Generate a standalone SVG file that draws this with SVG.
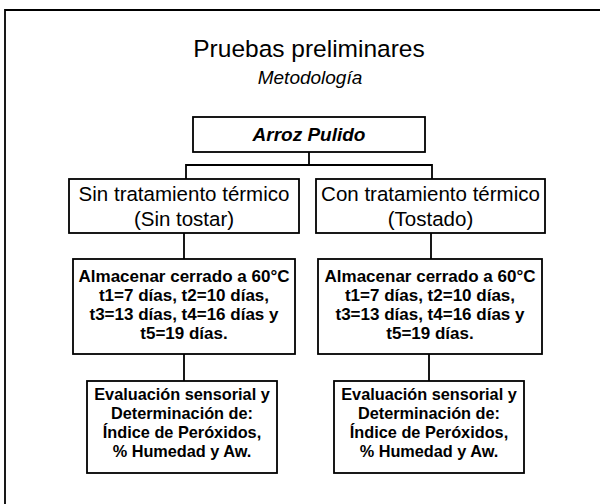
<svg xmlns="http://www.w3.org/2000/svg" width="600" height="504" viewBox="0 0 600 504">
<style>
.box{fill:#fff;stroke:#000;stroke-width:1.8}
.ln{fill:none;stroke:#000;stroke-width:1.8}
text{font-family:"Liberation Sans",Arial,sans-serif;fill:#000;text-anchor:middle}
.t2{font-size:20.5px}
.t3{font-size:17px;font-weight:bold}
.t4{font-size:16.3px;font-weight:bold}
</style>
<rect width="600" height="504" fill="#fff"/>
<path class="ln" d="M5,504 V10 H600" stroke-width="2"/>
<g id="title">
<text x="309" y="57" font-size="24.5">Pruebas preliminares</text>
<text x="310" y="84" font-size="19" font-style="italic">Metodología</text>
</g>
<g id="connectors">
<path class="ln" d="M309,152 V165 M186,179 V165 H432 V179"/>
<path class="ln" d="M184,233 V259 M431,233 V259"/>
<path class="ln" d="M184,354 V381 M429,354 V381"/>
</g>
<g id="arroz">
<rect class="box" x="193" y="117" width="232" height="35"/>
<text x="309" y="141" font-size="19" font-weight="bold" font-style="italic">Arroz Pulido</text>
</g>
<g id="sin">
<rect class="box" x="69" y="179" width="230" height="54"/>
<text class="t2" x="184" y="201">Sin tratamiento térmico</text>
<text class="t2" x="184" y="226">(Sin tostar)</text>
</g>
<g id="con">
<rect class="box" x="316" y="179" width="229" height="54"/>
<text class="t2" x="430.5" y="201">Con tratamiento térmico</text>
<text class="t2" x="430.5" y="226">(Tostado)</text>
</g>
<g id="alm1">
<rect class="box" x="73" y="259" width="222" height="95"/>
<text class="t3" x="184" y="282">Almacenar cerrado a 60°C</text>
<text class="t3" x="184" y="301">t1=7 días, t2=10 días,</text>
<text class="t3" x="184" y="320">t3=13 días, t4=16 días y</text>
<text class="t3" x="184" y="339">t5=19 días.</text>
</g>
<g id="alm2">
<rect class="box" x="318" y="259" width="224" height="95"/>
<text class="t3" x="430" y="282">Almacenar cerrado a 60°C</text>
<text class="t3" x="430" y="301">t1=7 días, t2=10 días,</text>
<text class="t3" x="430" y="320">t3=13 días, t4=16 días y</text>
<text class="t3" x="430" y="339">t5=19 días.</text>
</g>
<g id="eval1">
<rect class="box" x="87" y="381" width="190" height="92"/>
<text class="t4" x="182" y="400">Evaluación sensorial y</text>
<text class="t4" x="182" y="419">Determinación de:</text>
<text class="t4" x="182" y="438">Índice de Peróxidos,</text>
<text class="t4" x="182" y="457">% Humedad y Aw.</text>
</g>
<g id="eval2">
<rect class="box" x="334" y="381" width="190" height="92"/>
<text class="t4" x="429" y="400">Evaluación sensorial y</text>
<text class="t4" x="429" y="419">Determinación de:</text>
<text class="t4" x="429" y="438">Índice de Peróxidos,</text>
<text class="t4" x="429" y="457">% Humedad y Aw.</text>
</g>
</svg>
